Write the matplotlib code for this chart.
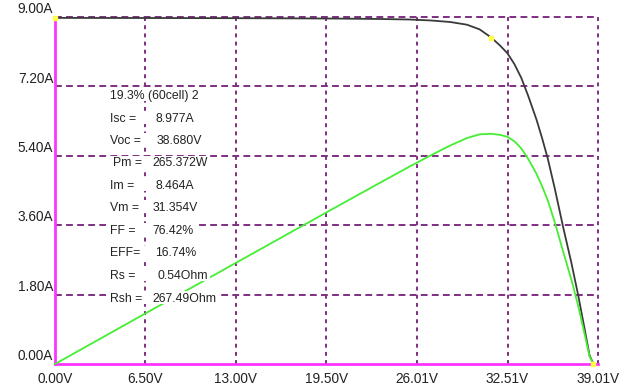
import matplotlib
matplotlib.use("Agg")
import numpy as np
import matplotlib.pyplot as plt
from matplotlib.patches import Rectangle

plt.rcParams['font.family'] = ['Liberation Sans', 'DejaVu Sans']

# I-V curve (volts, amps)
volts = [0.0, 4.0, 8.0, 12.0, 16.0, 20.0, 23.0, 25.5, 27.0, 28.4, 29.6, 30.5,
         31.354, 32.0, 32.5, 33.0, 33.5, 34.0, 34.6, 35.0, 35.4, 35.9, 36.5,
         37.1, 37.6, 38.0, 38.4, 38.68]
amps = [8.977, 8.975, 8.973, 8.970, 8.966, 8.960, 8.950, 8.935, 8.910, 8.870,
        8.800, 8.680, 8.464, 8.250, 8.060, 7.780, 7.420, 6.950, 6.330, 5.850,
        5.330, 4.560, 3.560, 2.620, 1.760, 1.000, 0.230, 0.0]

# module summary
summary = ["19.3% (60cell) 2", "Isc =", "Voc =", " Pm =", "Im =", "Vm =",
           "FF =", "EFF=", "Rs =", "Rsh ="]
values = ["", "8.977A", "38.680V", "265.372W", "8.464A", "31.354V",
          "76.42%", "16.74%", "0.54Ohm", "267.49Ohm"]
value_x = [0, 155, 157, 152, 155, 153, 152, 155, 157, 152]
isc, voc, vm, im = 8.977, 38.680, 31.354, 8.464
power_full_scale = 400.0  # watts shown at the 9.00A line

x_ticks = [0.0, 6.50, 13.00, 19.50, 26.01, 32.51, 39.01]
x_labels = ["0.00V", "6.50V", "13.00V", "19.50V", "26.01V", "32.51V", "39.01V"]
y_ticks = [0.0, 1.80, 3.60, 5.40, 7.20, 9.00]
y_labels = ["0.00A", "1.80A", "3.60A", "5.40A", "7.20A", "9.00A"]

W, H = 632, 387
fig = plt.figure(figsize=(W / 100, H / 100), dpi=100)
left, right, top, bottom = 55, 598, 17, 364
ax = fig.add_axes([left / W, 1 - bottom / H, (right - left) / W, (bottom - top) / H])
ax.set_xlim(x_ticks[0], x_ticks[-1])
ax.set_ylim(y_ticks[0], y_ticks[-1])
ax.set_axis_off()

grid_c = '#7d2f80'
for xv in x_ticks[1:]:
    ax.plot([xv, xv], [0, 9], color=grid_c, lw=1.4, ls=(0, (2, 2.2)),
            clip_on=False, zorder=1)
for yv in y_ticks[1:]:
    ax.plot([0, x_ticks[-1]], [yv, yv], color=grid_c, lw=1.4, ls=(0, (3.5, 2.2)),
            clip_on=False, zorder=1)

# axes in magenta
ax.plot([0, 0], [0, 9], color='#ff33ff', lw=2.0, clip_on=False, zorder=2)
ax.plot([0, x_ticks[-1]], [0, 0], color='#ff33ff', lw=2.0, clip_on=False, zorder=2)

v = np.array(volts)
i = np.array(amps)
p = v * i / power_full_scale * y_ticks[-1]

ax.plot(v, i, color='#3a3a3a', lw=1.3, clip_on=False, zorder=3)
ax.plot(v, p, color='#44ee33', lw=1.3, clip_on=False, zorder=3)
ax.plot([0, vm, voc], [isc, im, 0], ls='none', marker='s', ms=2.5,
        color='#ffff44', mec='#ffff44', clip_on=False, zorder=4)

for xv, lab in zip(x_ticks, x_labels):
    ax.text(xv, -0.2, lab, ha='center', va='top', fontsize=9.8, color='#222222')
for yv, lab in zip(y_ticks, y_labels):
    ax.text(-0.12, yv + 0.02, lab, ha='right', va='bottom', fontsize=9.8,
            color='#222222')

# summary lines, each on a white strip that hides the grid behind it
row_texts = []
for k, (lab, val) in enumerate(zip(summary, values)):
    y = 1 - (96 + k * 22.5) / H
    lx = 113 if lab.startswith(" ") else 110
    t1 = fig.text(lx / W, y, lab.strip(), ha='left', va='center', fontsize=8.8,
                  color='#222222', zorder=5)
    parts = [t1]
    if val:
        parts.append(fig.text(value_x[k] / W, y, val, ha='left', va='center',
                              fontsize=8.8, color='#222222', zorder=5))
    row_texts.append(parts)

fig.canvas.draw()
renderer = fig.canvas.get_renderer()
for parts in row_texts:
    boxes = [t.get_window_extent(renderer) for t in parts]
    x0 = 106
    x1 = max(b.x1 for b in boxes) + 2
    y0 = min(b.y0 for b in boxes) + 1
    y1 = max(b.y1 for b in boxes) + 2
    fig.patches.append(Rectangle((x0, y0), x1 - x0, y1 - y0, transform=None,
                                 facecolor='white', edgecolor='none', zorder=4))

fig.savefig("out.png", dpi=100)
